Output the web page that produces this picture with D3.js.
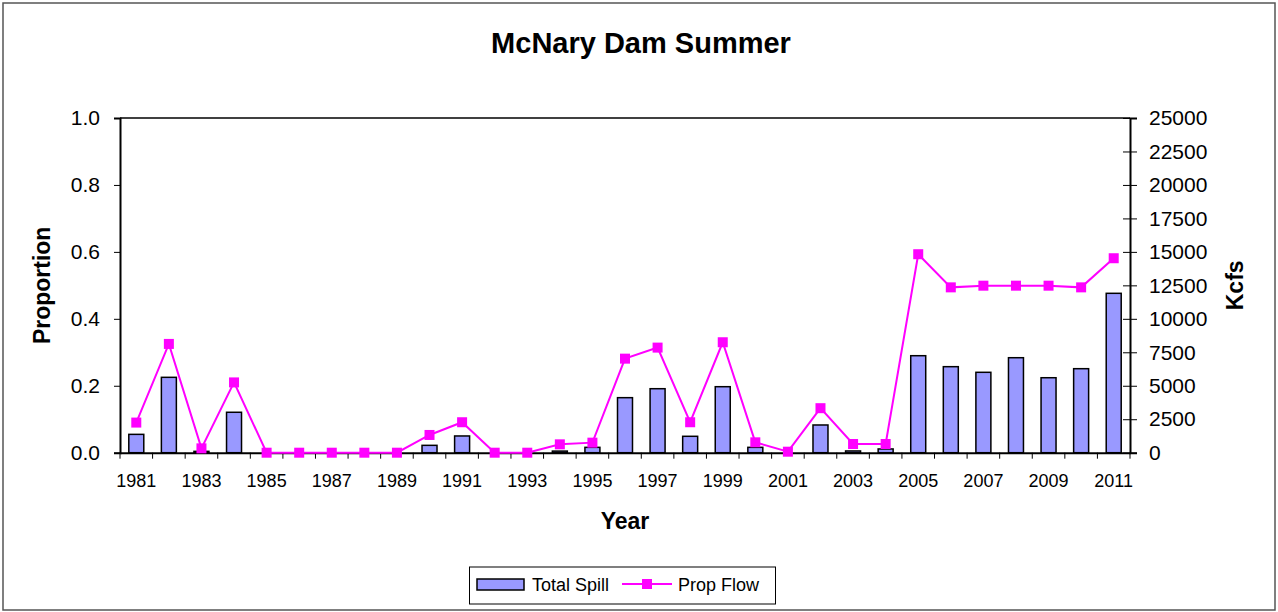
<!DOCTYPE html>
<html>
<head>
<meta charset="utf-8">
<title>McNary Dam Summer</title>
<script src="https://cdn.jsdelivr.net/npm/d3@7"></script>
<style>
  body { margin: 0; background: #fff; }
  svg text { font-family: "Liberation Sans", Arial, sans-serif; fill: #000; }
</style>
</head>
<body>
<svg id="chart" width="1278" height="612"></svg>
<script>
// data
var years = [1981, 1982, 1983, 1984, 1985, 1986, 1987, 1988, 1989, 1990,
             1991, 1992, 1993, 1994, 1995, 1996, 1997, 1998, 1999, 2000,
             2001, 2002, 2003, 2004, 2005, 2006, 2007, 2008, 2009, 2010, 2011];
// Total Spill (Kcfs, right axis)
var totalSpill = [1370, 5630, 100, 3020, 0, 0, 0, 0, 0, 550,
                  1250, 0, 0, 120, 400, 4110, 4780, 1225, 4930, 400,
                  0, 2070, 130, 280, 7245, 6425, 6005, 7095, 5600, 6275, 11905];
// Prop Flow (proportion, left axis)
var propFlow = [0.090, 0.325, 0.013, 0.210, 0, 0, 0, 0, 0, 0.053,
                0.091, 0, 0, 0.025, 0.030, 0.281, 0.314, 0.091, 0.330, 0.031,
                0.003, 0.133, 0.026, 0.026, 0.593, 0.494, 0.499, 0.499, 0.499, 0.494, 0.581];
var leftTicks = [0, 0.2, 0.4, 0.6, 0.8, 1.0];
var rightTicks = [0, 2500, 5000, 7500, 10000, 12500, 15000, 17500, 20000, 22500, 25000];
var labelYears = years.filter(function (d, i) { return i % 2 === 0; });

var svg = d3.select('#chart');
var plot = { left: 120, right: 1130, top: 118, bottom: 452.7 };

// outer frame
svg.append('rect')
  .attr('x', 3).attr('y', 3).attr('width', 1272).attr('height', 607)
  .attr('fill', '#fff').attr('stroke', '#555').attr('stroke-width', 1.5);

var x = d3.scaleBand()
  .domain(years)
  .range([plot.left, plot.right])
  .paddingInner(0.54)
  .paddingOuter(0.27);
var step = x.step();

var yL = d3.scaleLinear().domain([0, 1]).range([plot.bottom, plot.top]);
var yR = d3.scaleLinear().domain([0, 25000]).range([plot.bottom, plot.top]);

// plot border (top)
svg.append('line')
  .attr('x1', plot.left).attr('x2', plot.right)
  .attr('y1', plot.top).attr('y2', plot.top)
  .attr('stroke', '#000').attr('stroke-width', 1.5);

// bars
svg.append('g').selectAll('rect')
  .data(years)
  .enter().append('rect')
  .attr('x', function (d) { return x(d); })
  .attr('width', x.bandwidth())
  .attr('y', function (d, i) { return yR(totalSpill[i]); })
  .attr('height', function (d, i) { return plot.bottom - yR(totalSpill[i]); })
  .attr('fill', '#9999ff')
  .attr('stroke', '#000')
  .attr('stroke-width', 1.5);

// left axis
var gL = svg.append('g')
  .attr('transform', 'translate(' + plot.left + ',0)')
  .call(d3.axisLeft(yL).tickValues(leftTicks).tickFormat(d3.format('.1f')).tickSize(6).tickPadding(14));
gL.select('.domain').attr('stroke-width', 2);
gL.selectAll('text').style('font-size', '21px');

// right axis, ticks crossing the line
var gR = svg.append('g')
  .attr('transform', 'translate(' + plot.right + ',0)')
  .call(d3.axisRight(yR).tickValues(rightTicks).tickFormat(d3.format('d')).tickSize(7).tickPadding(12));
gR.select('.domain').attr('stroke-width', 2);
gR.selectAll('.tick line').attr('x1', -7).attr('x2', 7);
gR.selectAll('text').style('font-size', '21px');

// bottom axis: labels every other year, ticks at category boundaries
var gB = svg.append('g')
  .attr('transform', 'translate(0,' + plot.bottom + ')')
  .call(d3.axisBottom(x).tickValues(labelYears).tickSize(0).tickPadding(22));
gB.select('.domain').attr('stroke-width', 2);
gB.selectAll('text').style('font-size', '18px');
gB.selectAll('.bound')
  .data(years.concat(['end']))
  .enter().append('line')
  .attr('class', 'bound')
  .attr('x1', function (d, i) { return plot.left + i * step; })
  .attr('x2', function (d, i) { return plot.left + i * step; })
  .attr('y1', 0).attr('y2', 6)
  .attr('stroke', '#000');

// prop flow line
var cx = function (d, i) { return x(years[i]) + x.bandwidth() / 2; };
var line = d3.line()
  .x(function (d, i) { return cx(d, i); })
  .y(function (d) { return yL(d); });
svg.append('path')
  .datum(propFlow)
  .attr('d', line)
  .attr('fill', 'none')
  .attr('stroke', '#ff00ff')
  .attr('stroke-width', 2);
svg.append('g').selectAll('rect')
  .data(propFlow)
  .enter().append('rect')
  .attr('x', function (d, i) { return cx(d, i) - 5; })
  .attr('y', function (d) { return yL(d) - 5; })
  .attr('width', 10).attr('height', 10)
  .attr('fill', '#ff00ff');

// titles
svg.append('text')
  .attr('x', 641).attr('y', 53)
  .attr('text-anchor', 'middle')
  .style('font-size', '29px').style('font-weight', 'bold')
  .text('McNary Dam Summer');
svg.append('text')
  .attr('x', 625).attr('y', 529)
  .attr('text-anchor', 'middle')
  .style('font-size', '23px').style('font-weight', 'bold')
  .text('Year');
svg.append('text')
  .attr('transform', 'translate(50,' + (plot.top + plot.bottom) / 2 + ') rotate(-90)')
  .attr('text-anchor', 'middle')
  .style('font-size', '23px').style('font-weight', 'bold')
  .text('Proportion');
svg.append('text')
  .attr('transform', 'translate(1243,' + (plot.top + plot.bottom) / 2 + ') rotate(-90)')
  .attr('text-anchor', 'middle')
  .style('font-size', '23px').style('font-weight', 'bold')
  .text('Kcfs');

// legend
var lg = svg.append('g');
lg.append('rect')
  .attr('x', 469.5).attr('y', 567).attr('width', 306).attr('height', 37)
  .attr('fill', '#fff').attr('stroke', '#000').attr('stroke-width', 1);
lg.append('rect')
  .attr('x', 477).attr('y', 579).attr('width', 47).attr('height', 11)
  .attr('fill', '#9999ff').attr('stroke', '#000').attr('stroke-width', 1.5);
lg.append('text')
  .attr('x', 532).attr('y', 591)
  .style('font-size', '18px')
  .text('Total Spill');
lg.append('line')
  .attr('x1', 622).attr('x2', 672).attr('y1', 584).attr('y2', 584)
  .attr('stroke', '#ff00ff').attr('stroke-width', 2);
lg.append('rect')
  .attr('x', 642).attr('y', 579).attr('width', 10).attr('height', 10)
  .attr('fill', '#ff00ff');
lg.append('text')
  .attr('x', 678).attr('y', 591)
  .style('font-size', '18px')
  .text('Prop Flow');
</script>
</body>
</html>
